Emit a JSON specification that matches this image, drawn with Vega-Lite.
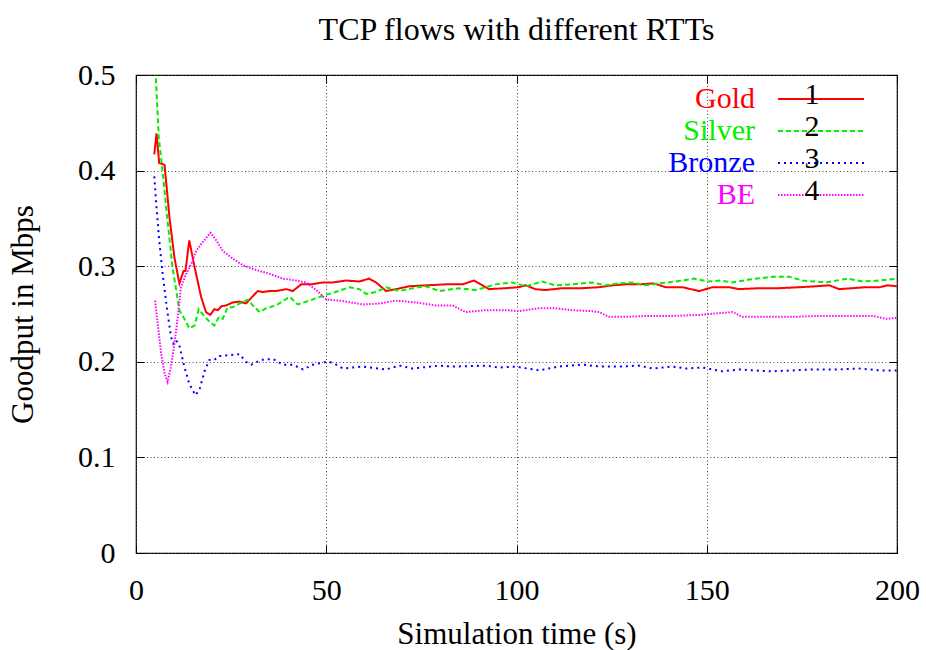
{
  "$schema": "https://vega.github.io/schema/vega-lite/v6.json",
  "width": 761,
  "height": 478,
  "autosize": "none",
  "padding": {"left": 136, "top": 75, "right": 29, "bottom": 97},
  "background": "white",
  "config": {
    "font": "Liberation Serif",
    "view": {"stroke": "black", "strokeWidth": 1.2},
    "axis": {
      "labelFont": "Liberation Serif", "titleFont": "Liberation Serif",
      "labelFontSize": 30, "titleFontSize": 31, "titleFontWeight": "normal",
      "labelColor": "black", "titleColor": "black",
      "domain": false, "tickColor": "black", "tickSize": -8, "tickWidth": 1,
      "grid": true, "gridColor": "#444444", "gridDash": [1, 2.5], "gridWidth": 1,
      "labelFlush": false, "labelOverlap": false
    },
    "legend": {"labelFont": "Liberation Serif", "padding": 0}
  },
  "title": {"text": "TCP flows with different RTTs", "font": "Liberation Serif", "fontSize": 32, "fontWeight": "normal", "color": "black", "offset": -3},
  "datasets": {
    "keys": [{"s": "Gold", "k": "1"}, {"s": "Silver", "k": "2"}, {"s": "Bronze", "k": "3"}, {"s": "BE", "k": "4"}],
    "main": [
      {"s":"Gold","t":4.8,"v":0.417},{"s":"Gold","t":5.4,"v":0.439},{"s":"Gold","t":6.1,"v":0.408},{"s":"Gold","t":7.5,"v":0.406},{"s":"Gold","t":8.8,"v":0.351},{"s":"Gold","t":10.1,"v":0.309},{"s":"Gold","t":11.4,"v":0.282},{"s":"Gold","t":12.5,"v":0.295},{"s":"Gold","t":13,"v":0.295},{"s":"Gold","t":14,"v":0.327},{"s":"Gold","t":15.4,"v":0.299},{"s":"Gold","t":17.1,"v":0.268},{"s":"Gold","t":18.4,"v":0.252},{"s":"Gold","t":19.5,"v":0.249},{"s":"Gold","t":20.6,"v":0.255},{"s":"Gold","t":21.5,"v":0.254},{"s":"Gold","t":22.4,"v":0.258},{"s":"Gold","t":23.7,"v":0.259},{"s":"Gold","t":25.4,"v":0.262},{"s":"Gold","t":27.2,"v":0.263},{"s":"Gold","t":28.9,"v":0.261},{"s":"Gold","t":30.3,"v":0.267},{"s":"Gold","t":32,"v":0.274},{"s":"Gold","t":33.3,"v":0.273},{"s":"Gold","t":35.1,"v":0.274},{"s":"Gold","t":36.8,"v":0.274},{"s":"Gold","t":39.5,"v":0.276},{"s":"Gold","t":41.2,"v":0.274},{"s":"Gold","t":43.4,"v":0.281},{"s":"Gold","t":46,"v":0.281},{"s":"Gold","t":49.1,"v":0.283},{"s":"Gold","t":51.7,"v":0.283},{"s":"Gold","t":55.2,"v":0.285},{"s":"Gold","t":58.7,"v":0.284},{"s":"Gold","t":61.3,"v":0.287},{"s":"Gold","t":63.1,"v":0.283},{"s":"Gold","t":65.7,"v":0.274},{"s":"Gold","t":68.3,"v":0.276},{"s":"Gold","t":71.8,"v":0.279},{"s":"Gold","t":76.2,"v":0.28},{"s":"Gold","t":81.4,"v":0.281},{"s":"Gold","t":85.8,"v":0.281},{"s":"Gold","t":88.8,"v":0.285},{"s":"Gold","t":92.8,"v":0.276},{"s":"Gold","t":97.1,"v":0.277},{"s":"Gold","t":100.6,"v":0.278},{"s":"Gold","t":102.4,"v":0.28},{"s":"Gold","t":105,"v":0.276},{"s":"Gold","t":107.6,"v":0.275},{"s":"Gold","t":112,"v":0.277},{"s":"Gold","t":117.2,"v":0.277},{"s":"Gold","t":121.6,"v":0.278},{"s":"Gold","t":125.2,"v":0.28},{"s":"Gold","t":128.7,"v":0.281},{"s":"Gold","t":132.2,"v":0.281},{"s":"Gold","t":136.1,"v":0.282},{"s":"Gold","t":139.2,"v":0.278},{"s":"Gold","t":143.6,"v":0.278},{"s":"Gold","t":148,"v":0.274},{"s":"Gold","t":151.5,"v":0.278},{"s":"Gold","t":155.9,"v":0.278},{"s":"Gold","t":158.5,"v":0.276},{"s":"Gold","t":163.8,"v":0.277},{"s":"Gold","t":169,"v":0.277},{"s":"Gold","t":174.3,"v":0.278},{"s":"Gold","t":178.7,"v":0.279},{"s":"Gold","t":182.2,"v":0.28},{"s":"Gold","t":184.8,"v":0.276},{"s":"Gold","t":188.3,"v":0.277},{"s":"Gold","t":191.8,"v":0.278},{"s":"Gold","t":195.4,"v":0.278},{"s":"Gold","t":197.5,"v":0.28},{"s":"Gold","t":200,"v":0.279},
      {"s":"Silver","t":4.8,"v":0.53},{"s":"Silver","t":6,"v":0.434},{"s":"Silver","t":7,"v":0.399},{"s":"Silver","t":8.3,"v":0.347},{"s":"Silver","t":9.6,"v":0.299},{"s":"Silver","t":11.4,"v":0.254},{"s":"Silver","t":12.7,"v":0.245},{"s":"Silver","t":14,"v":0.235},{"s":"Silver","t":15.4,"v":0.238},{"s":"Silver","t":16.5,"v":0.255},{"s":"Silver","t":17.5,"v":0.25},{"s":"Silver","t":19.3,"v":0.242},{"s":"Silver","t":20.6,"v":0.238},{"s":"Silver","t":21.8,"v":0.247},{"s":"Silver","t":22.8,"v":0.245},{"s":"Silver","t":24.1,"v":0.257},{"s":"Silver","t":25.4,"v":0.257},{"s":"Silver","t":27.2,"v":0.261},{"s":"Silver","t":29.4,"v":0.265},{"s":"Silver","t":30.7,"v":0.259},{"s":"Silver","t":32.5,"v":0.252},{"s":"Silver","t":34.2,"v":0.256},{"s":"Silver","t":36.8,"v":0.259},{"s":"Silver","t":40.4,"v":0.268},{"s":"Silver","t":42.5,"v":0.26},{"s":"Silver","t":45.6,"v":0.264},{"s":"Silver","t":49.1,"v":0.269},{"s":"Silver","t":51.7,"v":0.272},{"s":"Silver","t":56.1,"v":0.278},{"s":"Silver","t":58.7,"v":0.276},{"s":"Silver","t":60.5,"v":0.271},{"s":"Silver","t":63.1,"v":0.273},{"s":"Silver","t":65.7,"v":0.278},{"s":"Silver","t":69.2,"v":0.274},{"s":"Silver","t":72.7,"v":0.277},{"s":"Silver","t":76.2,"v":0.279},{"s":"Silver","t":79.7,"v":0.274},{"s":"Silver","t":84.9,"v":0.277},{"s":"Silver","t":89.3,"v":0.275},{"s":"Silver","t":94.5,"v":0.281},{"s":"Silver","t":98.9,"v":0.283},{"s":"Silver","t":102.4,"v":0.279},{"s":"Silver","t":106.7,"v":0.284},{"s":"Silver","t":110.2,"v":0.28},{"s":"Silver","t":114.6,"v":0.281},{"s":"Silver","t":119.8,"v":0.283},{"s":"Silver","t":123.4,"v":0.28},{"s":"Silver","t":126.9,"v":0.282},{"s":"Silver","t":130.4,"v":0.283},{"s":"Silver","t":133.9,"v":0.28},{"s":"Silver","t":137.5,"v":0.282},{"s":"Silver","t":141.8,"v":0.284},{"s":"Silver","t":146.7,"v":0.287},{"s":"Silver","t":150.2,"v":0.284},{"s":"Silver","t":153.7,"v":0.285},{"s":"Silver","t":156.8,"v":0.283},{"s":"Silver","t":161.1,"v":0.286},{"s":"Silver","t":167.3,"v":0.289},{"s":"Silver","t":171.7,"v":0.289},{"s":"Silver","t":175.2,"v":0.285},{"s":"Silver","t":181.3,"v":0.283},{"s":"Silver","t":187,"v":0.287},{"s":"Silver","t":191,"v":0.284},{"s":"Silver","t":195.4,"v":0.285},{"s":"Silver","t":200,"v":0.287},
      {"s":"Bronze","t":4.8,"v":0.394},{"s":"Bronze","t":5.4,"v":0.361},{"s":"Bronze","t":6.1,"v":0.327},{"s":"Bronze","t":7,"v":0.292},{"s":"Bronze","t":8.1,"v":0.257},{"s":"Bronze","t":9.2,"v":0.226},{"s":"Bronze","t":9.8,"v":0.219},{"s":"Bronze","t":10.5,"v":0.223},{"s":"Bronze","t":11.4,"v":0.217},{"s":"Bronze","t":12.7,"v":0.195},{"s":"Bronze","t":14,"v":0.177},{"s":"Bronze","t":15.6,"v":0.165},{"s":"Bronze","t":16.7,"v":0.171},{"s":"Bronze","t":18,"v":0.19},{"s":"Bronze","t":19.3,"v":0.202},{"s":"Bronze","t":20.6,"v":0.202},{"s":"Bronze","t":21.9,"v":0.206},{"s":"Bronze","t":24.6,"v":0.207},{"s":"Bronze","t":27.2,"v":0.208},{"s":"Bronze","t":28.9,"v":0.2},{"s":"Bronze","t":30.3,"v":0.197},{"s":"Bronze","t":32.9,"v":0.202},{"s":"Bronze","t":36,"v":0.203},{"s":"Bronze","t":38.6,"v":0.197},{"s":"Bronze","t":41.2,"v":0.197},{"s":"Bronze","t":43.9,"v":0.192},{"s":"Bronze","t":46.5,"v":0.197},{"s":"Bronze","t":50,"v":0.2},{"s":"Bronze","t":51.7,"v":0.199},{"s":"Bronze","t":54.4,"v":0.193},{"s":"Bronze","t":59.6,"v":0.195},{"s":"Bronze","t":65.7,"v":0.192},{"s":"Bronze","t":69.2,"v":0.196},{"s":"Bronze","t":72.7,"v":0.193},{"s":"Bronze","t":79.7,"v":0.196},{"s":"Bronze","t":83.2,"v":0.195},{"s":"Bronze","t":91.9,"v":0.196},{"s":"Bronze","t":95.4,"v":0.194},{"s":"Bronze","t":99.8,"v":0.195},{"s":"Bronze","t":105.9,"v":0.191},{"s":"Bronze","t":111.1,"v":0.195},{"s":"Bronze","t":117.2,"v":0.197},{"s":"Bronze","t":122.4,"v":0.195},{"s":"Bronze","t":126.9,"v":0.195},{"s":"Bronze","t":132.2,"v":0.196},{"s":"Bronze","t":135.7,"v":0.193},{"s":"Bronze","t":141,"v":0.195},{"s":"Bronze","t":144.5,"v":0.193},{"s":"Bronze","t":148.9,"v":0.194},{"s":"Bronze","t":154.1,"v":0.19},{"s":"Bronze","t":158.5,"v":0.192},{"s":"Bronze","t":166.4,"v":0.19},{"s":"Bronze","t":172.5,"v":0.191},{"s":"Bronze","t":177.8,"v":0.192},{"s":"Bronze","t":184.8,"v":0.192},{"s":"Bronze","t":190.1,"v":0.193},{"s":"Bronze","t":195.4,"v":0.191},{"s":"Bronze","t":200,"v":0.191},
      {"s":"BE","t":5,"v":0.264},{"s":"BE","t":5.7,"v":0.24},{"s":"BE","t":6.6,"v":0.209},{"s":"BE","t":7.5,"v":0.188},{"s":"BE","t":8.3,"v":0.179},{"s":"BE","t":9.2,"v":0.195},{"s":"BE","t":10.1,"v":0.219},{"s":"BE","t":11,"v":0.247},{"s":"BE","t":11.8,"v":0.278},{"s":"BE","t":13.2,"v":0.292},{"s":"BE","t":14.5,"v":0.302},{"s":"BE","t":15.8,"v":0.316},{"s":"BE","t":17.5,"v":0.325},{"s":"BE","t":19.6,"v":0.335},{"s":"BE","t":21.1,"v":0.327},{"s":"BE","t":22.8,"v":0.316},{"s":"BE","t":25.4,"v":0.308},{"s":"BE","t":28.1,"v":0.301},{"s":"BE","t":31.6,"v":0.296},{"s":"BE","t":35.1,"v":0.292},{"s":"BE","t":38.6,"v":0.287},{"s":"BE","t":42.1,"v":0.285},{"s":"BE","t":44.7,"v":0.283},{"s":"BE","t":47.4,"v":0.275},{"s":"BE","t":50,"v":0.265},{"s":"BE","t":53.5,"v":0.264},{"s":"BE","t":59.6,"v":0.26},{"s":"BE","t":64,"v":0.261},{"s":"BE","t":68.3,"v":0.264},{"s":"BE","t":73.6,"v":0.262},{"s":"BE","t":78.8,"v":0.259},{"s":"BE","t":83.2,"v":0.259},{"s":"BE","t":86.6,"v":0.252},{"s":"BE","t":91.9,"v":0.254},{"s":"BE","t":97.1,"v":0.254},{"s":"BE","t":100.6,"v":0.253},{"s":"BE","t":105.9,"v":0.256},{"s":"BE","t":110.2,"v":0.256},{"s":"BE","t":114.6,"v":0.254},{"s":"BE","t":119.8,"v":0.253},{"s":"BE","t":121.7,"v":0.252},{"s":"BE","t":124.3,"v":0.247},{"s":"BE","t":128.7,"v":0.247},{"s":"BE","t":134.8,"v":0.248},{"s":"BE","t":141,"v":0.248},{"s":"BE","t":148,"v":0.249},{"s":"BE","t":150.6,"v":0.25},{"s":"BE","t":156.8,"v":0.252},{"s":"BE","t":159.4,"v":0.247},{"s":"BE","t":165.5,"v":0.247},{"s":"BE","t":172.5,"v":0.247},{"s":"BE","t":179.6,"v":0.248},{"s":"BE","t":186.6,"v":0.248},{"s":"BE","t":193.6,"v":0.248},{"s":"BE","t":197.1,"v":0.245},{"s":"BE","t":200,"v":0.246}
    ]
  },
  "data": {"name": "main"},
  "transform": [{"lookup": "s", "from": {"data": {"name": "keys"}, "key": "s", "fields": ["k"]}}],
  "layer": [
    {
      "mark": {"type": "line", "clip": true, "strokeWidth": 2},
      "encoding": {
        "x": {"field": "t", "type": "quantitative", "scale": {"domain": [0, 200], "nice": false},
          "axis": {"values": [0, 50, 100, 150, 200], "title": "Simulation time (s)", "labelFont": "Liberation Serif", "titleFont": "Liberation Serif", "labelPadding": 30, "titlePadding": 14}},
        "y": {"field": "v", "type": "quantitative", "scale": {"domain": [0, 0.5], "nice": false, "zero": false},
          "axis": {"values": [0, 0.1, 0.2, 0.3, 0.4, 0.5], "format": "~g", "title": "Goodput in Mbps", "labelFont": "Liberation Serif", "titleFont": "Liberation Serif", "labelPadding": 29, "titlePadding": 38}},
        "color": {"field": "s", "type": "nominal",
          "scale": {"domain": ["Gold", "Silver", "Bronze", "BE"], "range": ["#ff0000", "#00ee00", "#0000ff", "#ff00ff"]},
          "legend": {"orient": "none", "legendX": 670, "legendY": 9, "title": null, "symbolType": "M-4,0H4", "symbolSize": 462, "symbolStrokeWidth": 2, "labelFontSize": 30, "labelLimit": 0, "rowPadding": 2,
            "encode": {"labels": {"update": {"x": {"value": -51}, "align": {"value": "right"}, "fill": {"scale": "color", "field": "value"}}}}}},
        "strokeDash": {"field": "s", "type": "nominal",
          "scale": {"domain": ["Gold", "Silver", "Bronze", "BE"], "range": [[1, 0], [5, 3], [2, 4], [1.5, 1.5]]}},
        "opacity": {"field": "k", "type": "ordinal",
          "scale": {"domain": ["1", "2", "3", "4"], "range": [1, 1, 1, 1]},
          "legend": {"orient": "none", "legendX": 670, "legendY": 5, "title": null, "symbolType": "M-4,0H4", "symbolSize": 462, "labelFontSize": 30, "labelColor": "black", "rowPadding": 2,
            "encode": {"symbols": {"update": {"opacity": {"value": 0}, "strokeOpacity": {"value": 0}, "fillOpacity": {"value": 0}}}, "labels": {"update": {"x": {"value": 6}, "align": {"value": "center"}}}}}}
      }
    },
    {
      "mark": {"type": "point", "opacity": 0},
      "encoding": {
        "x": {"field": "t", "type": "quantitative", "axis": {"orient": "top", "values": [0, 50, 100, 150, 200], "labels": false, "grid": false, "title": null}},
        "y": {"field": "v", "type": "quantitative", "axis": {"orient": "right", "values": [0, 0.1, 0.2, 0.3, 0.4, 0.5], "labels": false, "grid": false, "title": null}}
      }
    }
  ],
  "resolve": {"axis": {"x": "independent", "y": "independent"}}
}
